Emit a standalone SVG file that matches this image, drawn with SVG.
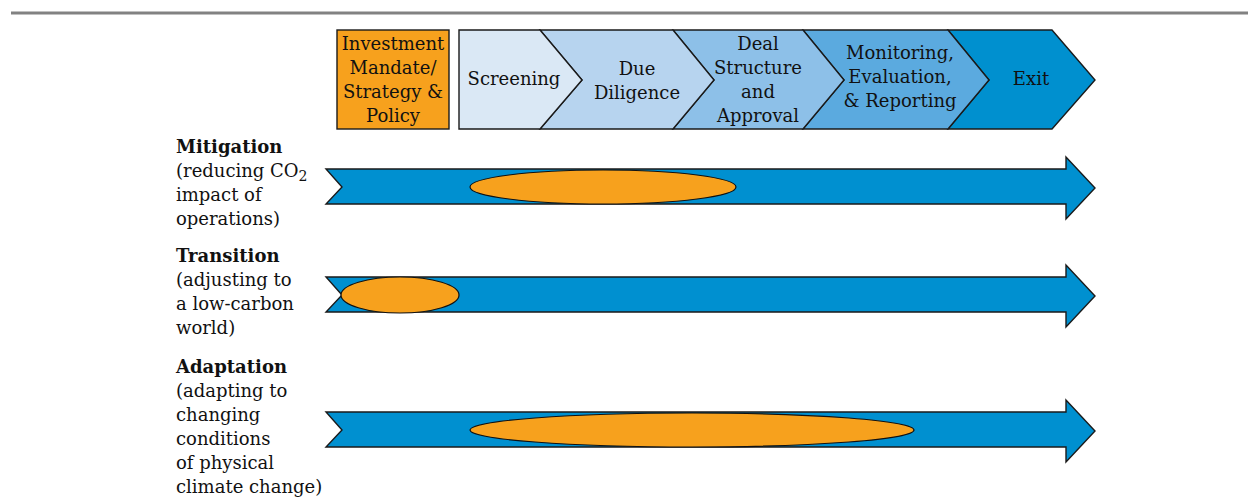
<svg xmlns="http://www.w3.org/2000/svg" width="1248" height="498" viewBox="0 0 1248 498">
<style>
.t{font-family:"DejaVu Serif","Liberation Serif",serif;font-size:18px;fill:#111}
.c{text-anchor:middle}
.b{font-weight:bold}
.ch{stroke:#1a1a1a;stroke-width:1.4;stroke-linejoin:miter}
.ar{fill:#0090D0;stroke:#1a1a1a;stroke-width:1.4}
.el{fill:#F7A11D;stroke:#111;stroke-width:1.2}
</style>
<rect x="0" y="0" width="1248" height="498" fill="#fff"/>
<line x1="11" y1="13" x2="1248" y2="13" stroke="#828282" stroke-width="3"/>
<g id="policy">
<rect x="337" y="30" width="112" height="99" fill="#F7A11D" stroke="#1a1a1a" stroke-width="1.4"/>
<text class="t c" x="393" y="50">Investment</text>
<text class="t c" x="393" y="74">Mandate/</text>
<text class="t c" x="393" y="98">Strategy &amp;</text>
<text class="t c" x="393" y="122">Policy</text>
</g>
<g id="exit">
<polygon class="ch" fill="#0090CF" points="948,30 1052,30 1095,80 1052,129 948,129 989,80"/>
<text class="t c" x="1031" y="85">Exit</text>
</g>
<g id="monitoring">
<polygon class="ch" fill="#5BAADF" points="803,30 948,30 989,80 948,129 803,129 844,80"/>
<text class="t c" x="900" y="59">Monitoring,</text>
<text class="t c" x="900" y="83">Evaluation,</text>
<text class="t c" x="900" y="107">&amp; Reporting</text>
</g>
<g id="deal">
<polygon class="ch" fill="#8DC0E8" points="673,30 803,30 844,80 803,129 673,129 714,80"/>
<text class="t c" x="758" y="50">Deal</text>
<text class="t c" x="758" y="74">Structure</text>
<text class="t c" x="758" y="98">and</text>
<text class="t c" x="758" y="122">Approval</text>
</g>
<g id="due">
<polygon class="ch" fill="#B7D4EF" points="540,30 673,30 714,80 673,129 540,129 582,80"/>
<text class="t c" x="637" y="75">Due</text>
<text class="t c" x="637" y="99">Diligence</text>
</g>
<g id="screening">
<polygon class="ch" fill="#DAE8F5" points="459,30 540,30 582,80 540,129 459,129"/>
<text class="t c" x="514" y="85">Screening</text>
</g>
<g id="mitigation-label">
<text class="t b" x="176" y="153">Mitigation</text>
<text class="t" x="176" y="177">(reducing CO<tspan font-size="14" dy="4">2</tspan></text>
<text class="t" x="176" y="201">impact of</text>
<text class="t" x="176" y="225">operations)</text>
</g>
<g id="transition-label">
<text class="t b" x="176" y="262">Transition</text>
<text class="t" x="176" y="286">(adjusting to</text>
<text class="t" x="176" y="310">a low-carbon</text>
<text class="t" x="176" y="334">world)</text>
</g>
<g id="adaptation-label">
<text class="t b" x="176" y="373">Adaptation</text>
<text class="t" x="176" y="397">(adapting to</text>
<text class="t" x="176" y="421">changing</text>
<text class="t" x="176" y="445">conditions</text>
<text class="t" x="176" y="469">of physical</text>
<text class="t" x="176" y="493">climate change)</text>
</g>
<g id="mitigation-arrow">
<polygon class="ar" points="326,169 1066,169 1066,157 1095,188 1066,219 1066,204 326,204 342,187"/>
<ellipse class="el" cx="603" cy="187" rx="133" ry="17"/>
</g>
<g id="transition-arrow">
<polygon class="ar" points="326,277 1066,277 1066,265 1095,296 1066,327 1066,312 326,312 342,295"/>
<ellipse class="el" cx="400" cy="295" rx="59" ry="18"/>
</g>
<g id="adaptation-arrow">
<polygon class="ar" points="326,412 1066,412 1066,400 1095,431 1066,462 1066,447 326,447 342,430"/>
<ellipse class="el" cx="692" cy="430" rx="222" ry="17"/>
</g>
<g id="connectors"></g>
</svg>
